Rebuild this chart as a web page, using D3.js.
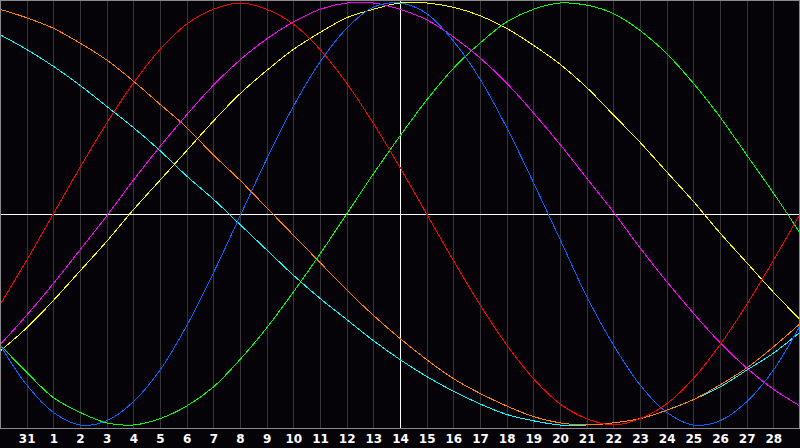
<!DOCTYPE html>
<html>
<head>
<meta charset="utf-8">
<script src="https://cdn.jsdelivr.net/npm/d3@7"></script>
<style>
  html, body { margin: 0; padding: 0; background: #050308; }
  svg { display: block; }
</style>
</head>
<body>
<svg id="chart"></svg>
<script>
// CHART DATA (one value per day)

// days shown along the bottom, index 0 = 30th of previous month
const days = [30, 31, 1, 2, 3, 4, 5, 6, 7, 8, 9, 10, 11, 12, 13, 14, 15, 16, 17, 18, 19, 20, 21, 22, 23, 24, 25, 26, 27, 28, 29];
const todayIdx = 15; // day 14, the white line

const red = [-0.43,-0.22,0,0.22,0.43,0.62,0.78,0.90,0.97,1,0.97,0.90,0.78,0.62,0.43,0.22,0,-0.22,-0.43,-0.62,-0.78,-0.90,-0.97,-1,-0.97,-0.90,-0.78,-0.62,-0.43,-0.22,0];
const blue = [-0.62,-0.81,-0.94,-1.00,-0.98,-0.89,-0.74,-0.53,-0.28,-0.01,0.26,0.51,0.72,0.88,0.98,1.00,0.95,0.82,0.64,0.41,0.15,-0.12,-0.39,-0.62,-0.81,-0.94,-1.00,-0.98,-0.89,-0.74,-0.53];
const green = [-0.62,-0.75,-0.87,-0.94,-0.99,-1.00,-0.97,-0.91,-0.82,-0.69,-0.54,-0.37,-0.19,0.00,0.19,0.37,0.54,0.69,0.81,0.91,0.97,1.00,0.99,0.95,0.87,0.76,0.62,0.46,0.28,0.10,-0.09];
const magenta = [-0.62,-0.48,-0.33,-0.17,-0.01,0.16,0.32,0.47,0.61,0.73,0.83,0.91,0.97,1.00,1.00,0.97,0.92,0.84,0.74,0.62,0.48,0.33,0.17,0.01,-0.16,-0.32,-0.47,-0.61,-0.73,-0.83,-0.91];
const yellow = [-0.65,-0.54,-0.41,-0.27,-0.13,0.02,0.16,0.30,0.44,0.57,0.68,0.78,0.86,0.93,0.97,1.00,1.00,0.98,0.94,0.88,0.80,0.71,0.60,0.47,0.34,0.20,0.06,-0.09,-0.23,-0.37,-0.50];
const orange = [0.97,0.93,0.88,0.81,0.73,0.63,0.52,0.41,0.28,0.16,0.03,-0.10,-0.23,-0.36,-0.48,-0.59,-0.69,-0.78,-0.85,-0.91,-0.96,-0.99,-1.00,-0.99,-0.97,-0.93,-0.88,-0.81,-0.73,-0.63,-0.52];
const cyan = [0.85,0.78,0.70,0.61,0.51,0.41,0.30,0.18,0.07,-0.05,-0.17,-0.29,-0.40,-0.50,-0.60,-0.69,-0.77,-0.84,-0.90,-0.95,-0.98,-1.00,-1.00,-0.99,-0.97,-0.93,-0.88,-0.82,-0.74,-0.66,-0.56];

const seriesList = [
    {name: 'spiritual', values: cyan, color: '#00ffff'},
    {name: 'awareness', values: orange, color: '#ff8000'},
    {name: 'aesthetic', values: yellow, color: '#ffff00'},
    {name: 'intuitive', values: magenta, color: '#ff00ff'},
    {name: 'intellectual', values: green, color: '#00ff00'},
    {name: 'physical', values: blue, color: '#0066ff'},
    {name: 'emotional', values: red, color: '#ff0000'}
];

const width = 800;
const height = 448;
const plotH = 428;

let svg = d3.select('#chart')
    .attr('width', width)
    .attr('height', height);

svg.append('rect')
    .attr('width', width)
    .attr('height', height)
    .attr('fill', '#050308');

let x = d3.scaleLinear().domain([0, days.length - 1]).range([0, width]);
let y = d3.scaleLinear().domain([-1, 1]).range([425, 3]);

// vertical day lines
let innerIdx = d3.range(1, days.length - 1);

svg.append('g')
    .attr('class', 'grid')
    .attr('transform', `translate(0,${plotH})`)
    .call(d3.axisBottom(x).tickValues(innerIdx).tickSize(-plotH).tickFormat(''))
    .call(g => g.select('.domain').remove())
    .call(g => g.selectAll('line')
        .attr('stroke', d => d == todayIdx ? '#ffffff' : '#363636')
        .attr('shape-rendering', 'crispEdges'));

// zero line
svg.append('line')
    .attr('x1', 0).attr('x2', width)
    .attr('y1', y(0) + 0.5).attr('y2', y(0) + 0.5)
    .attr('stroke', '#ffffff')
    .attr('stroke-width', 1)
    .attr('shape-rendering', 'crispEdges');

// curves
let line = d3.line()
    .x((d, i) => x(i))
    .y(d => y(d))
    .curve(d3.curveCatmullRom.alpha(0.5));

svg.append('g')
    .selectAll('path')
    .data(seriesList)
    .join('path')
    .attr('d', d => line(d.values))
    .attr('fill', 'none')
    .attr('stroke', d => d.color)
    .attr('stroke-width', 1)
    .attr('shape-rendering', 'crispEdges');

// frame
svg.append('rect')
    .attr('x', 0.5).attr('y', 0.5)
    .attr('width', width - 1).attr('height', plotH)
    .attr('fill', 'none')
    .attr('stroke', '#8a8a8a')
    .attr('shape-rendering', 'crispEdges');

// day labels
svg.append('g')
    .attr('transform', `translate(0,${plotH})`)
    .call(d3.axisBottom(x).tickValues(innerIdx).tickSize(0).tickPadding(6).tickFormat(i => days[i]))
    .call(g => g.select('.domain').remove())
    .call(g => g.selectAll('text')
        .attr('fill', '#ffffff')
        .attr('font-family', 'DejaVu Sans, sans-serif')
        .attr('font-weight', 'bold')
        .attr('font-size', '12px'));
</script>
</body>
</html>
